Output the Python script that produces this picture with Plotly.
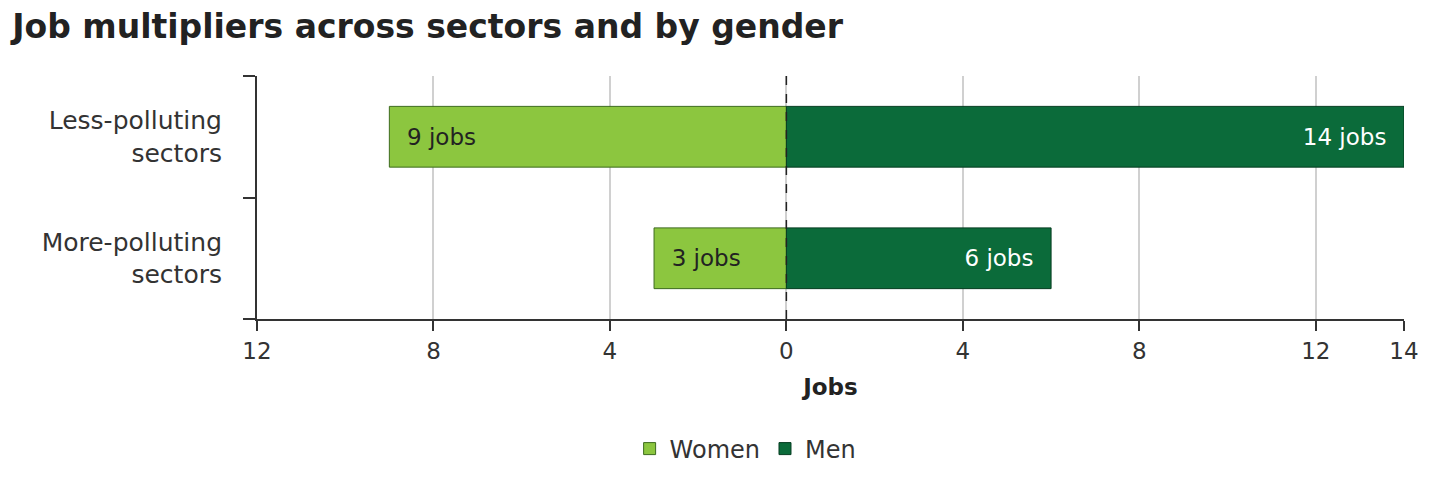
import plotly.graph_objects as go

# Data
sectors = ["Less-polluting<br>sectors", "More-polluting<br>sectors"]
women_jobs = [9, 3]
men_jobs = [14, 6]
tick_vals = [-12, -8, -4, 0, 4, 8, 12, 14]
tick_text = ["12", "8", "4", "0", "4", "8", "12", "14"]

font_family = "DejaVu Sans, sans-serif"
pad = "\u00a0\u00a0"

fig = go.Figure()

# women go to the left, so plot as negative values
fig.add_trace(go.Bar(
    y=sectors, x=[-v for v in women_jobs], orientation="h", name="Women",
    marker=dict(color="#8cc63f", line=dict(color="#3d6b1e", width=1)),
    text=[f"{pad}{v} jobs" for v in women_jobs], textposition="inside",
    insidetextanchor="end", textfont=dict(color="#222222", size=23),
    width=0.5,
))
fig.add_trace(go.Bar(
    y=sectors, x=men_jobs, orientation="h", name="Men",
    marker=dict(color="#0b6b3a", line=dict(color="#063d21", width=1)),
    text=[f"{v} jobs{pad}" for v in men_jobs], textposition="inside",
    insidetextanchor="end", textfont=dict(color="white", size=23),
    width=0.5,
))

# dashed line at zero
fig.add_vline(x=0, line=dict(color="#222222", width=1.5, dash="dash"))

fig.update_layout(
    barmode="relative",
    width=1430, height=496,
    paper_bgcolor="white", plot_bgcolor="white",
    font=dict(family=font_family, size=23, color="#333333"),
    title=dict(text="<b>Job multipliers across sectors and by gender</b>",
               x=0.003, xanchor="left", y=0.963, yanchor="middle",
               font=dict(size=33, color="#222222")),
    margin=dict(l=249, r=34, t=68, b=185),
    legend=dict(orientation="h", x=0.426, xanchor="center", y=-0.535, yanchor="middle",
                font=dict(size=24, color="#333333"), traceorder="normal"),
)

fig.update_xaxes(
    range=[-12, 14], tickvals=tick_vals, ticktext=tick_text,
    showgrid=True, gridcolor="#d0d0d0", gridwidth=2, zeroline=False,
    showline=True, linecolor="#333333", linewidth=2,
    ticks="outside", ticklen=10, tickcolor="#333333", tickwidth=2,
    tickfont=dict(size=23, color="#333333"),
    title=dict(text="<b>Jobs</b>", font=dict(size=23, color="#222222"), standoff=16),
)
fig.update_yaxes(
    categoryorder="array", categoryarray=sectors[::-1],
    showline=True, linecolor="#333333", linewidth=2,
    ticks="outside", ticklen=12, tickcolor="#333333", tickwidth=2,
    tickson="boundaries", showgrid=False, ticklabelstandoff=28,
    tickfont=dict(size=25, color="#333333"),
)

fig.write_html("out.html")
